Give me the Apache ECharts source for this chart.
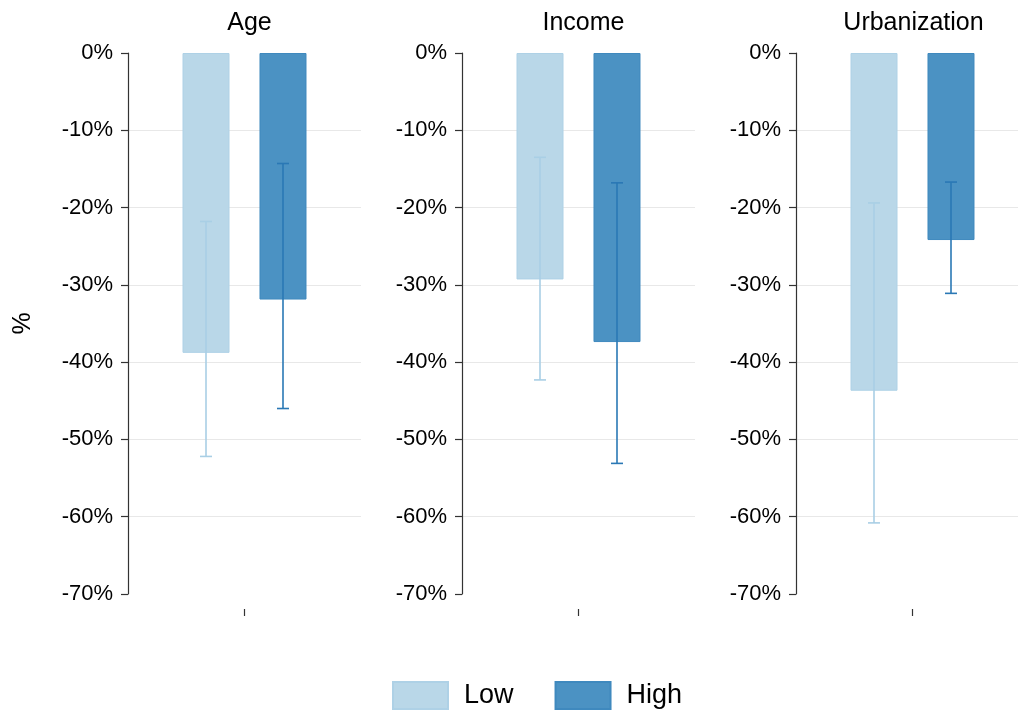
<!DOCTYPE html>
<html>
<head>
<meta charset="utf-8">
<script src="https://cdn.jsdelivr.net/npm/echarts@6/dist/echarts.min.js"></script>
<style>
  html, body { margin: 0; padding: 0; background: #fff; overflow: hidden; width: 1018px; height: 710px; }
  /* the drawing surface is a little wider than the page so the last panel runs off the right edge */
  #chart { width: 1030px; height: 710px; }
</style>
</head>
<body>
<div id="chart"></div>
<script>
// Panels and group names
const panels = ['Age', 'Income', 'Urbanization'];
const groups = ['Low', 'High'];

// Mean change (%) per panel
const lowMean = [-38.8, -29.3, -43.7];
const highMean = [-31.9, -37.4, -24.2];

// Confidence intervals (%) per panel
const lowCiLower = [-52.2, -42.3, -60.8];
const lowCiUpper = [-21.8, -13.5, -19.4];
const highCiLower = [-46.0, -53.1, -31.1];
const highCiUpper = [-14.3, -16.8, -16.7];

// Y axis ticks
const yMin = -70, yMax = 0, yStep = 10;

// Styling
const FONT = '"Liberation Sans", Arial, sans-serif';
const LOW_FILL = '#b9d7e8', LOW_EDGE = '#aed1e6', LOW_ERR = '#a9cfe5';
const HIGH_FILL = '#4b92c3', HIGH_EDGE = '#3f89be', HIGH_ERR = '#2a78b5';
const BAR_W = 47, BAR_SPACE = 30;
const GRID_LEFT = [128, 462, 796], GRID_W = 233, GRID_TOP = 53, GRID_H = 541;

const chart = echarts.init(document.getElementById('chart'), null, { renderer: 'canvas' });

function errorBarRenderer(offset, color) {
  return function (params, api) {
    const lo = api.coord([api.value(0), api.value(1)]);
    const hi = api.coord([api.value(0), api.value(2)]);
    const x = lo[0] + offset;
    const cap = 6;
    const style = { stroke: color, lineWidth: 1.6 };
    return {
      type: 'group',
      children: [
        { type: 'line', shape: { x1: x, y1: lo[1], x2: x, y2: hi[1] }, style },
        { type: 'line', shape: { x1: x - cap, y1: lo[1], x2: x + cap, y2: lo[1] }, style },
        { type: 'line', shape: { x1: x - cap, y1: hi[1], x2: x + cap, y2: hi[1] }, style }
      ]
    };
  };
}

const grid = [], xAxis = [], yAxis = [], title = [], series = [];
const half = (BAR_W + BAR_SPACE) / 2;

panels.forEach((name, i) => {
  grid.push({ left: GRID_LEFT[i], top: GRID_TOP, width: GRID_W, height: GRID_H });
  title.push({
    text: name,
    left: GRID_LEFT[i] + GRID_W / 2 - (i === 2 ? 4 : 0),
    top: 6,
    textAlign: 'center',
    textStyle: { fontFamily: FONT, fontSize: 25, fontWeight: 'normal', color: '#000' }
  });
  xAxis.push({
    type: 'category',
    gridIndex: i,
    position: 'bottom',
    data: [''],
    offset: 15,
    axisLine: { show: false, onZero: false },
    axisTick: { show: true, alignWithLabel: true, length: 7, lineStyle: { color: '#333', width: 1.2 } },
    axisLabel: { show: false },
    splitLine: { show: false }
  });
  yAxis.push({
    type: 'value',
    gridIndex: i,
    min: yMin,
    max: yMax,
    interval: yStep,
    name: i === 0 ? '%' : '',
    nameLocation: 'middle',
    nameGap: 92,
    nameTextStyle: { fontFamily: FONT, fontSize: 25, color: '#000' },
    axisLine: { show: true, lineStyle: { color: '#333', width: 1.2 } },
    axisTick: { show: true, length: 7, lineStyle: { color: '#333', width: 1.2 } },
    axisLabel: {
      margin: 15,
      fontFamily: FONT,
      fontSize: 22,
      color: '#000',
      formatter: v => v + '%'
    },
    splitLine: { show: true, showMinLine: false, showMaxLine: false, lineStyle: { color: '#e8e8e8', width: 1 } }
  });

  series.push({
    name: 'Low',
    type: 'bar',
    xAxisIndex: i,
    yAxisIndex: i,
    data: [lowMean[i]],
    barWidth: BAR_W,
    barGap: (BAR_SPACE / BAR_W * 100).toFixed(1) + '%',
    itemStyle: { color: LOW_FILL, borderColor: LOW_EDGE, borderWidth: 1 },
    emphasis: { disabled: true }
  });
  series.push({
    name: 'High',
    type: 'bar',
    xAxisIndex: i,
    yAxisIndex: i,
    data: [highMean[i]],
    barWidth: BAR_W,
    barGap: (BAR_SPACE / BAR_W * 100).toFixed(1) + '%',
    itemStyle: { color: HIGH_FILL, borderColor: HIGH_EDGE, borderWidth: 1 },
    emphasis: { disabled: true }
  });
  series.push({
    type: 'custom',
    xAxisIndex: i,
    yAxisIndex: i,
    z: 5,
    silent: true,
    renderItem: errorBarRenderer(-half, LOW_ERR),
    encode: { x: 0, y: [1, 2] },
    data: [[0, lowCiLower[i], lowCiUpper[i]]]
  });
  series.push({
    type: 'custom',
    xAxisIndex: i,
    yAxisIndex: i,
    z: 5,
    silent: true,
    renderItem: errorBarRenderer(half, HIGH_ERR),
    encode: { x: 0, y: [1, 2] },
    data: [[0, highCiLower[i], highCiUpper[i]]]
  });
});

chart.setOption({
  backgroundColor: '#fff',
  animation: false,
  title,
  grid,
  xAxis,
  yAxis,
  legend: {
    data: groups.map(g => ({ name: g, icon: 'rect' })),
    left: 392,
    top: 681,
    padding: 0,
    itemWidth: 55,
    itemHeight: 27,
    itemGap: 41,
    textStyle: { fontFamily: FONT, fontSize: 27, color: '#000', padding: [0, 0, 0, 11] },
    selectedMode: false
  },
  series
});
</script>
</body>
</html>
